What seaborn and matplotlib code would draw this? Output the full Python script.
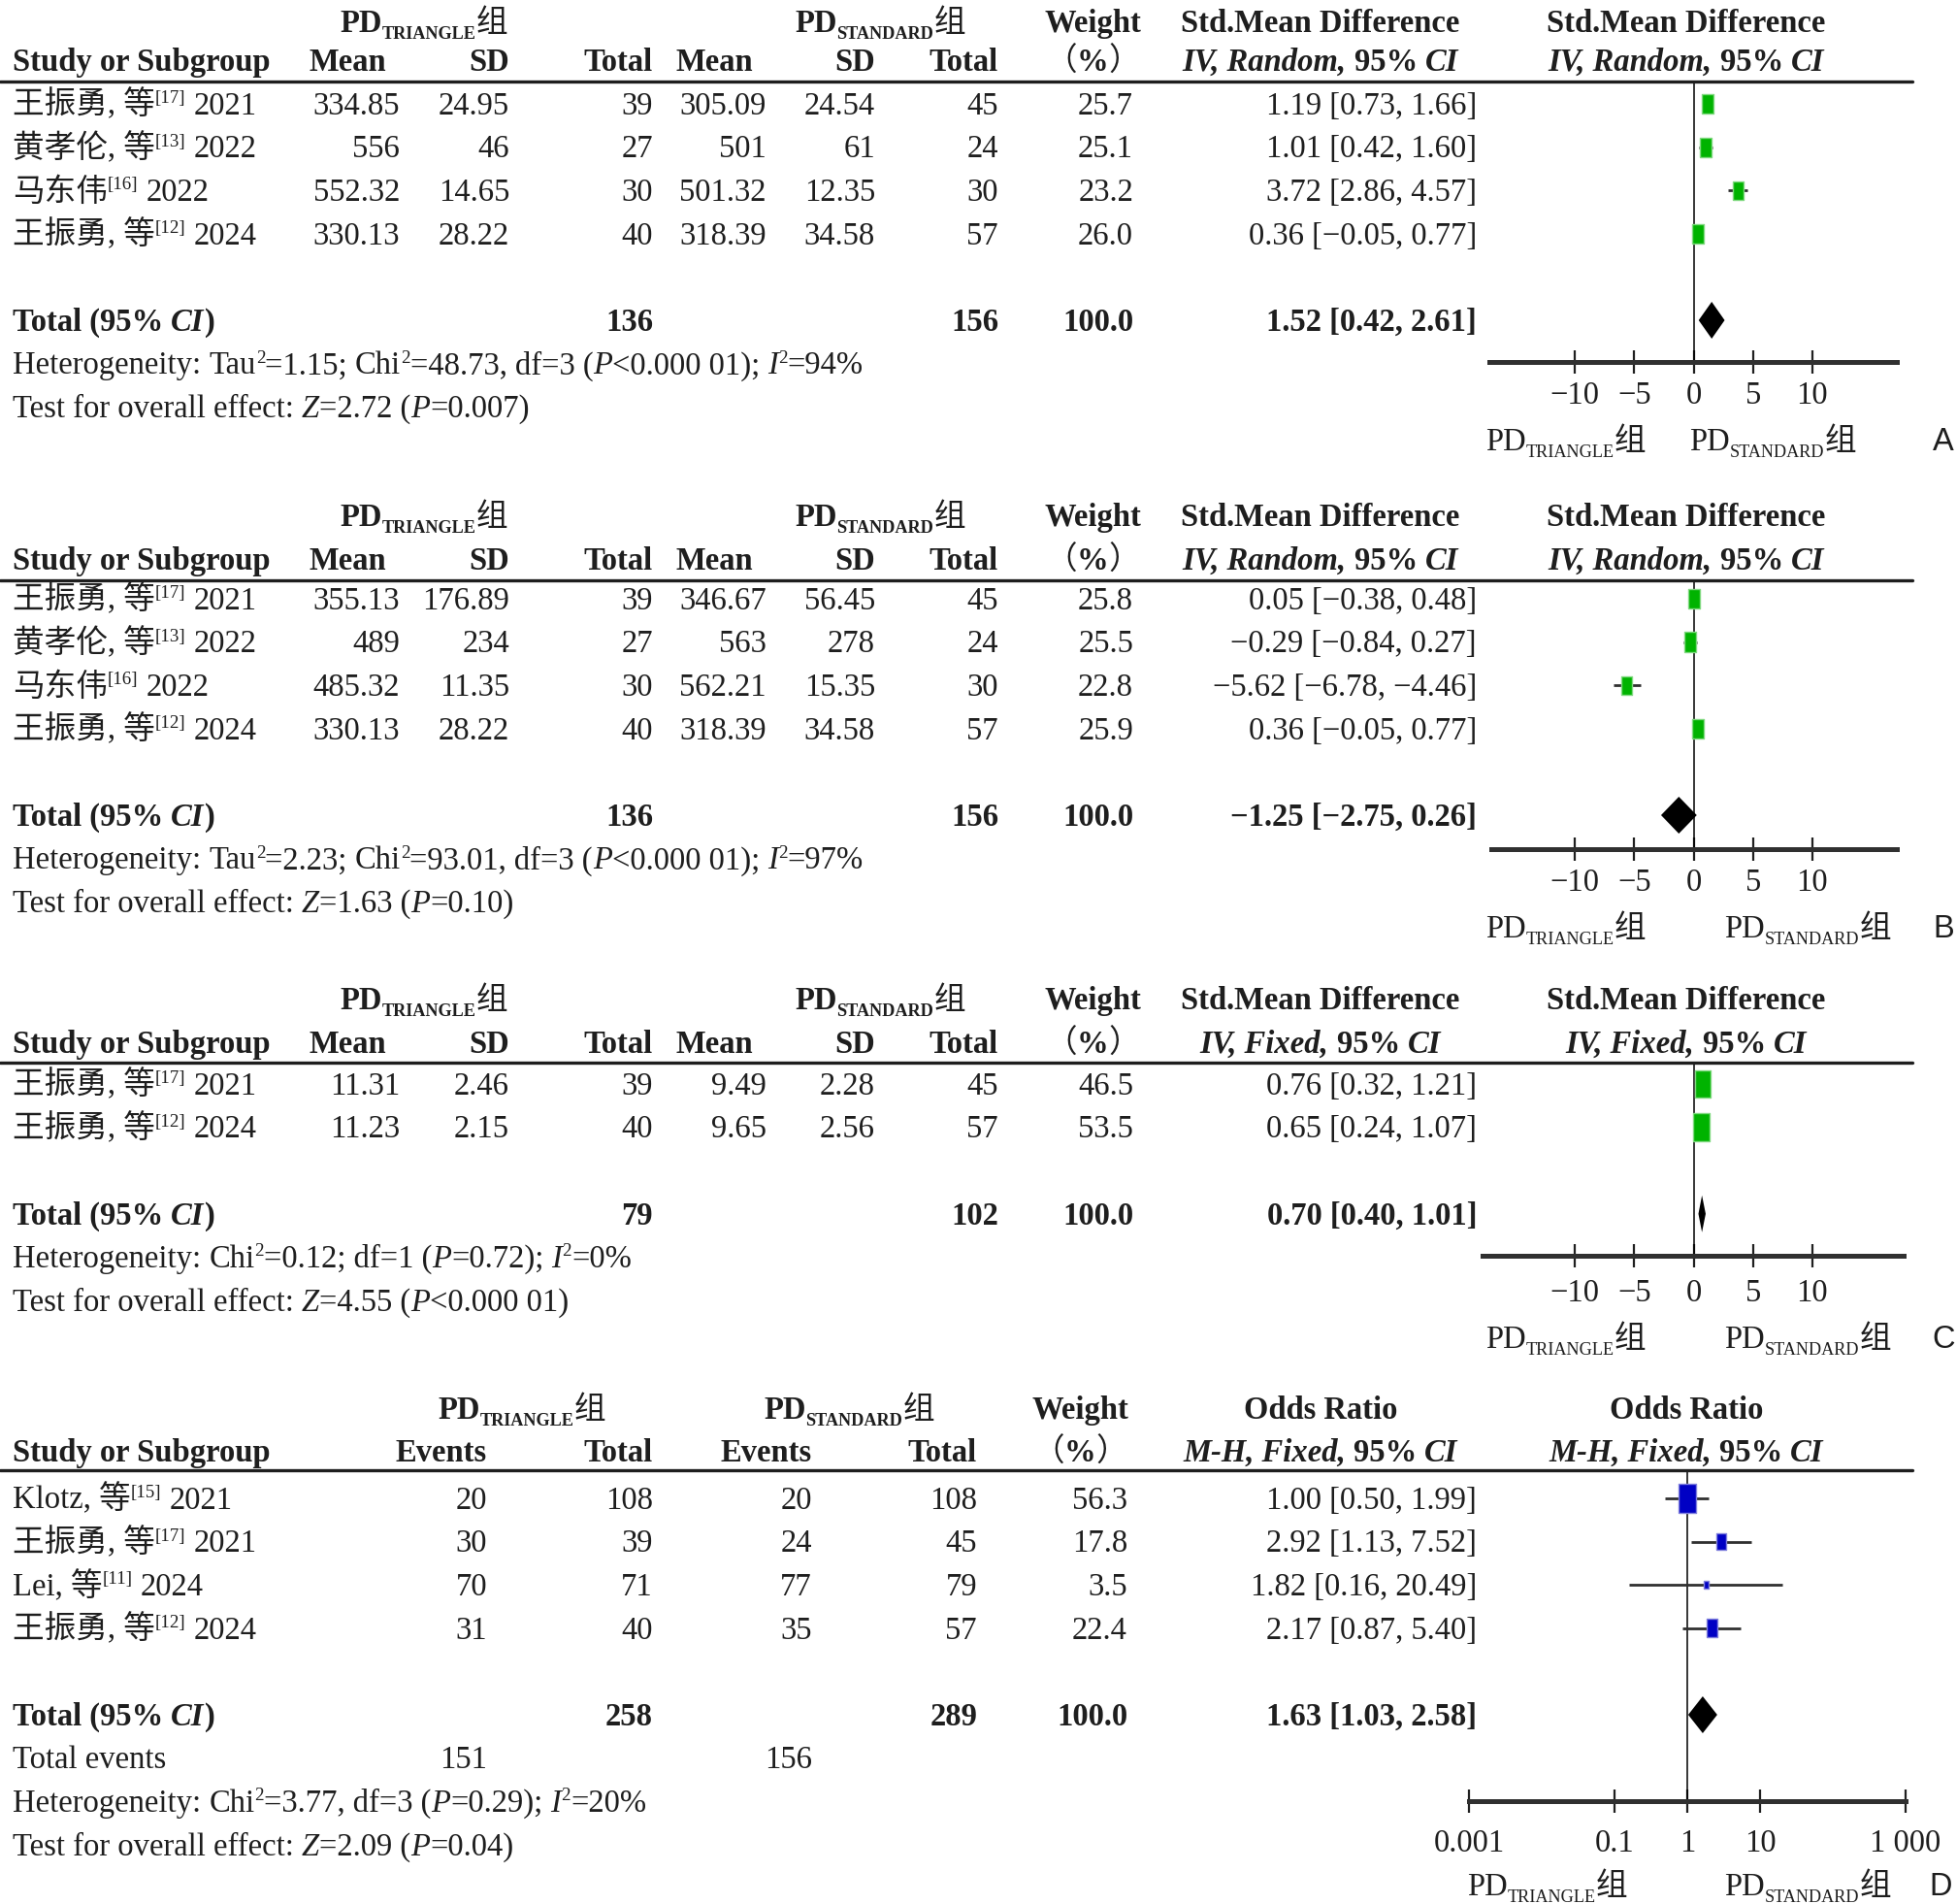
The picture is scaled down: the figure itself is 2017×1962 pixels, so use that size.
import matplotlib
matplotlib.use("Agg")
import matplotlib.pyplot as plt
from matplotlib.lines import Line2D
from matplotlib.ticker import NullLocator
import numpy as np
import seaborn as sns

# ── canvas / style ────────────────────────────────────────────────────────
W, H, DPI = 2017, 1962, 100
PX = DPI / 72.0                       # pixels per point
FS = 23.5
SERIF = ["Liberation Serif", "Noto Sans CJK SC", "DejaVu Serif"]
SANS = ["Liberation Sans", "DejaVu Sans"]
INK = "#1e1e1e"
DARK = "#303030"
GREEN, GREEN_EDGE = "#00b300", "#80d980"
BLUE, BLUE_EDGE = "#0000c4", "#8080dd"

# ── data: panels A-C (std. mean difference) ──────────────────────────────
SMD_AUTHORS = ["王振勇, 等", "黄孝伦, 等", "马东伟", "王振勇, 等"]
SMD_REFS = ["[17]", "[13]", "[16]", "[12]"]
SMD_YEARS = ["2021", "2022", "2022", "2024"]
SMD_N1 = [39, 27, 30, 40]
SMD_N2 = [45, 24, 30, 57]

A_MEAN1 = ["334.85", "556", "552.32", "330.13"]
A_SD1 = ["24.95", "46", "14.65", "28.22"]
A_MEAN2 = ["305.09", "501", "501.32", "318.39"]
A_SD2 = ["24.54", "61", "12.35", "34.58"]
A_WEIGHT = [25.7, 25.1, 23.2, 26.0]
A_EST = [1.19, 1.01, 3.72, 0.36]
A_LO = [0.73, 0.42, 2.86, -0.05]
A_HI = [1.66, 1.60, 4.57, 0.77]
A_TOTAL = [1.52, 0.42, 2.61]
A_HET = ["1.15", "48.73", "3", "<0.000 01", "94"]
A_TEST = ["2.72", "=0.007"]

B_MEAN1 = ["355.13", "489", "485.32", "330.13"]
B_SD1 = ["176.89", "234", "11.35", "28.22"]
B_MEAN2 = ["346.67", "563", "562.21", "318.39"]
B_SD2 = ["56.45", "278", "15.35", "34.58"]
B_WEIGHT = [25.8, 25.5, 22.8, 25.9]
B_EST = [0.05, -0.29, -5.62, 0.36]
B_LO = [-0.38, -0.84, -6.78, -0.05]
B_HI = [0.48, 0.27, -4.46, 0.77]
B_TOTAL = [-1.25, -2.75, 0.26]
B_HET = ["2.23", "93.01", "3", "<0.000 01", "97"]
B_TEST = ["1.63", "=0.10"]

C_AUTHORS = ["王振勇, 等", "王振勇, 等"]
C_REFS = ["[17]", "[12]"]
C_YEARS = ["2021", "2024"]
C_N1 = [39, 40]
C_N2 = [45, 57]
C_MEAN1 = ["11.31", "11.23"]
C_SD1 = ["2.46", "2.15"]
C_MEAN2 = ["9.49", "9.65"]
C_SD2 = ["2.28", "2.56"]
C_WEIGHT = [46.5, 53.5]
C_EST = [0.76, 0.65]
C_LO = [0.32, 0.24]
C_HI = [1.21, 1.07]
C_TOTAL = [0.70, 0.40, 1.01]
C_HET = [None, "0.12", "1", "=0.72", "0"]
C_TEST = ["4.55", "<0.000 01"]

SMD_TICKS = [-10, -5, 0, 5, 10]

# ── data: panel D (odds ratio) ───────────────────────────────────────────
D_AUTHORS = ["Klotz, 等", "王振勇, 等", "Lei, 等", "王振勇, 等"]
D_REFS = ["[15]", "[17]", "[11]", "[12]"]
D_YEARS = ["2021", "2021", "2024", "2024"]
D_EV1 = [20, 30, 70, 31]
D_N1 = [108, 39, 71, 40]
D_EV2 = [20, 24, 77, 35]
D_N2 = [108, 45, 79, 57]
D_WEIGHT = [56.3, 17.8, 3.5, 22.4]
D_EST = [1.00, 2.92, 1.82, 2.17]
D_LO = [0.50, 1.13, 0.16, 0.87]
D_HI = [1.99, 7.52, 20.49, 5.40]
D_TOTAL = [1.63, 1.03, 2.58]
D_HET = [None, "3.77", "3", "=0.29", "20"]
D_TEST = ["2.09", "=0.04"]
OR_TICKS = [0.001, 0.1, 1, 10, 1000]
OR_TICKLABELS = ["0.001", "0.1", "1", "10", "1 000"]

sns.set_theme(style="white")
plt.rcParams["font.family"] = SERIF
plt.rcParams["axes.unicode_minus"] = True

fig = plt.figure(figsize=(W / DPI, H / DPI), dpi=DPI, facecolor="white")
renderer = fig.canvas.get_renderer()

B = dict(weight="bold")
I = dict(style="italic")
BI = dict(weight="bold", style="italic")
SUP = dict(scale=0.58, rise=0.36)


def advance(s, kw):
    # width of s including its spaces (bars on both sides keep them)
    t1 = fig.text(0, 0, "|" + s + "|", **kw)
    t2 = fig.text(0, 0, "||", **kw)
    w = t1.get_window_extent(renderer).width - t2.get_window_extent(renderer).width
    t1.remove()
    t2.remove()
    return w


def rich(x, y, parts, ha="left", size=FS, color=INK):
    """Draw a run of differently styled pieces; x,y in image pixels (y = text centre)."""
    items = []
    for p in parts:
        if isinstance(p, str):
            p = (p, {})
        s, st = p
        kw = dict(fontsize=size * st.get("scale", 1.0), fontweight=st.get("weight", "normal"),
                  fontstyle=st.get("style", "normal"), family=st.get("family", SERIF),
                  color=color, va="baseline", ha="left")
        items.append((s, kw, advance(s, kw), st.get("rise", 0.0) * size * PX))
    total = sum(it[2] for it in items)
    cx = {"left": x, "center": x - total / 2, "right": x - total}[ha]
    base = y + 0.33 * size * PX
    for s, kw, w, rise in items:
        if s.strip():
            fig.text(cx / W, 1 - (base - rise) / H, s, **kw)
        cx += w


def pd_label(x, y, group, bold):
    w = "bold" if bold else "normal"
    rich(x, y, [("PD", dict(weight=w)), (group, dict(weight=w, scale=0.56, rise=-0.22)), "组"],
         ha="center")


def name_parts(author, ref, year):
    return [author, (ref, SUP), " ", year]


def fmt_ci(e, lo, hi):
    return f"{e:.2f} [{lo:.2f}, {hi:.2f}]".replace("-", "−")


def het_parts(het, chi_sep):
    tau, chi, df, p, i2 = het
    parts = ["Heterogeneity: "]
    if tau is not None:
        parts += ["Tau", ("2", SUP), f"={tau}; "]
    parts += ["Chi", ("2", SUP), f"={chi}{chi_sep} df={df} (", ("P", I), f"{p});", " ",
              ("I", I), ("2", SUP), f"={i2}%"]
    return parts


def test_parts(test):
    z, p = test
    return ["Test for overall effect: ", ("Z", I), f"={z} (", ("P", I), f"{p})"]


def hrule(y):
    fig.add_artist(Line2D([0, 1971 / W], [1 - y / H] * 2, lw=2.4, color=INK))


RECT = [(-0.29, -0.5), (0.29, -0.5), (0.29, 0.5), (-0.29, 0.5), (-0.29, -0.5)]
ZERO_PX, PPU = 1745.6, 12.23          # SMD axis: pixel of 0 and pixels per unit


def forest(x0, x1, rule, axis, row0, dy, est, lo, hi, wt, tot, color, edge, tick_gap, log=False):
    ax = fig.add_axes([x0 / W, 1 - axis / H, (x1 - x0) / W, (axis - rule) / H])
    ax.patch.set_alpha(0)
    rows = np.arange(len(est))
    ax.hlines(rows, lo, hi, color=DARK, lw=2.0, zorder=2)
    sns.scatterplot(x=est, y=rows, s=np.asarray(wt) * 8.3, marker=RECT, color=color,
                    edgecolor=edge, linewidth=1.0, ax=ax, zorder=3, legend=False)
    yt = len(est) + 1
    hh = 19 / dy
    ax.fill([tot[1], tot[0], tot[2], tot[0]], [yt, yt - hh, yt, yt + hh],
            color="black", lw=0, zorder=4)
    ax.axvline(1 if log else 0, color="black", lw=1.1, zorder=1)
    if log:
        ax.set_xscale("log")
        ax.set_xlim(1e-3, 1e3)
        ax.set_xticks(OR_TICKS, OR_TICKLABELS)
        ax.xaxis.set_minor_locator(NullLocator())
    else:
        ax.set_xlim((x0 - ZERO_PX) / PPU, (x1 - ZERO_PX) / PPU)
        ax.set_xticks(SMD_TICKS)
    ax.set_ylim((axis - row0) / dy, (rule - row0) / dy)
    for side in ("top", "left", "right"):
        ax.spines[side].set_visible(False)
    ax.spines["bottom"].set(lw=3.6, color=DARK)
    pad = (tick_gap - 24) / PX
    ax.tick_params(axis="x", bottom=True, direction="inout", length=17, width=1.6,
                   color="#202020", pad=pad, labelsize=FS, labelcolor=INK)
    ax.set_yticks([])
    ax.set_xlabel("")
    ax.set_ylabel("")
    ax.grid(False)
    return ax


def smd_panel(L, authors, refs, years, mean1, sd1, n1, mean2, sd2, n2, wt, est, lo, hi,
              tot, method, het, chi_sep, test):
    y1, y2 = L["h1"], L["h2"]
    pd_label(437, y1, "TRIANGLE", True)
    pd_label(907, y1, "STANDARD", True)
    rich(1126, y1, [("Weight", B)], ha="center")
    rich(1361, y1, [("Std.Mean Difference", B)], ha="center")
    rich(1738, y1, [("Std.Mean Difference", B)], ha="center")
    rich(13, y2, [("Study or Subgroup", B)])
    rich(358, y2, [("Mean", B)], ha="center")
    rich(525, y2, [("SD", B)], ha="right")
    rich(673, y2, [("Total", B)], ha="right")
    rich(736, y2, [("Mean", B)], ha="center")
    rich(902, y2, [("SD", B)], ha="right")
    rich(1029, y2, [("Total", B)], ha="right")
    rich(1126, y2, ["（", ("%", B), "）"], ha="center")
    meth = [(method + ", ", BI), ("95% ", B), ("CI", BI)]
    rich(1361, y2, meth, ha="center")
    rich(1738, y2, meth, ha="center")
    hrule(L["rule"])

    row0, dy = L["row0"], L["dy"]
    n = len(est)
    for i in range(n):
        y = row0 + i * dy
        rich(13, y, name_parts(authors[i], refs[i], years[i]))
        rich(412, y, [mean1[i]], ha="right")
        rich(525, y, [sd1[i]], ha="right")
        rich(673, y, [str(n1[i])], ha="right")
        rich(790, y, [mean2[i]], ha="right")
        rich(902, y, [sd2[i]], ha="right")
        rich(1029, y, [str(n2[i])], ha="right")
        rich(1168, y, [f"{wt[i]:.1f}"], ha="right")
        rich(1522, y, [fmt_ci(est[i], lo[i], hi[i])], ha="right")
    y = row0 + (n + 1) * dy
    rich(13, y, [("Total (95% ", B), ("CI", BI), (")", B)])
    rich(673, y, [(str(sum(n1)), B)], ha="right")
    rich(1029, y, [(str(sum(n2)), B)], ha="right")
    rich(1168, y, [(f"{sum(wt):.1f}", B)], ha="right")
    rich(1522, y, [(fmt_ci(*tot), B)], ha="right")
    rich(13, row0 + (n + 2) * dy, het_parts(het, chi_sep))
    rich(13, row0 + (n + 3) * dy, test_parts(test))

    forest(L["x0"], L["x1"], L["rule"], L["axis"], row0, dy, est, lo, hi, wt, tot,
           GREEN, GREEN_EDGE, L["tick_gap"])
    pd_label(1614, L["group"], "TRIANGLE", False)
    pd_label(L["std_x"], L["group"], "STANDARD", False)
    rich(2003, L["group"], [(L["letter"], dict(family=SANS))], ha="center")


LAY_A = dict(h1=22, h2=62, rule=84, row0=107, dy=44.6, axis=373, tick_gap=32, group=453,
             x0=1535, x1=1955, std_x=1827, letter="A")
LAY_B = dict(h1=531, h2=576, rule=598, row0=617, dy=44.6, axis=875, tick_gap=32, group=955,
             x0=1537, x1=1955, std_x=1863, letter="B")
LAY_C = dict(h1=1029, h2=1074, rule=1095, row0=1117, dy=44.6, axis=1294, tick_gap=36, group=1378,
             x0=1528, x1=1962, std_x=1863, letter="C")

smd_panel(LAY_A, SMD_AUTHORS, SMD_REFS, SMD_YEARS, A_MEAN1, A_SD1, SMD_N1, A_MEAN2, A_SD2,
          SMD_N2, A_WEIGHT, A_EST, A_LO, A_HI, A_TOTAL, "IV, Random", A_HET, ",", A_TEST)
smd_panel(LAY_B, SMD_AUTHORS, SMD_REFS, SMD_YEARS, B_MEAN1, B_SD1, SMD_N1, B_MEAN2, B_SD2,
          SMD_N2, B_WEIGHT, B_EST, B_LO, B_HI, B_TOTAL, "IV, Random", B_HET, ",", B_TEST)
smd_panel(LAY_C, C_AUTHORS, C_REFS, C_YEARS, C_MEAN1, C_SD1, C_N1, C_MEAN2, C_SD2,
          C_N2, C_WEIGHT, C_EST, C_LO, C_HI, C_TOTAL, "IV, Fixed", C_HET, ";", C_TEST)

# ── panel D: odds ratio ───────────────────────────────────────────────────
h1, h2, rule, row0, dy = 1451, 1495, 1515, 1544, 44.6
pd_label(538, h1, "TRIANGLE", True)
pd_label(875, h1, "STANDARD", True)
rich(1113, h1, [("Weight", B)], ha="center")
rich(1361, h1, [("Odds Ratio", B)], ha="center")
rich(1738, h1, [("Odds Ratio", B)], ha="center")
rich(13, h2, [("Study or Subgroup", B)])
rich(502, h2, [("Events", B)], ha="right")
rich(673, h2, [("Total", B)], ha="right")
rich(837, h2, [("Events", B)], ha="right")
rich(1007, h2, [("Total", B)], ha="right")
rich(1113, h2, ["（", ("%", B), "）"], ha="center")
mh = [("M-H, Fixed, ", BI), ("95% ", B), ("CI", BI)]
rich(1361, h2, mh, ha="center")
rich(1738, h2, mh, ha="center")
hrule(rule)

nD = len(D_EST)
for i in range(nD):
    y = row0 + i * dy
    rich(13, y, name_parts(D_AUTHORS[i], D_REFS[i], D_YEARS[i]))
    rich(502, y, [str(D_EV1[i])], ha="right")
    rich(673, y, [str(D_N1[i])], ha="right")
    rich(837, y, [str(D_EV2[i])], ha="right")
    rich(1007, y, [str(D_N2[i])], ha="right")
    rich(1162, y, [f"{D_WEIGHT[i]:.1f}"], ha="right")
    rich(1522, y, [fmt_ci(D_EST[i], D_LO[i], D_HI[i])], ha="right")
y = row0 + (nD + 1) * dy
rich(13, y, [("Total (95% ", B), ("CI", BI), (")", B)])
rich(673, y, [(str(sum(D_N1)), B)], ha="right")
rich(1007, y, [(str(sum(D_N2)), B)], ha="right")
rich(1162, y, [(f"{sum(D_WEIGHT):.1f}", B)], ha="right")
rich(1522, y, [(fmt_ci(*D_TOTAL), B)], ha="right")
y = row0 + (nD + 2) * dy
rich(13, y, ["Total events"])
rich(502, y, [str(sum(D_EV1))], ha="right")
rich(837, y, [str(sum(D_EV2))], ha="right")
rich(13, row0 + (nD + 3) * dy, het_parts(D_HET, ","))
rich(13, row0 + (nD + 4) * dy, test_parts(D_TEST))

forest(1514, 1964, rule, 1856, row0, dy, D_EST, D_LO, D_HI, D_WEIGHT, D_TOTAL,
       BLUE, BLUE_EDGE, 41, log=True)
pd_label(1595, 1942, "TRIANGLE", False)
pd_label(1863, 1942, "STANDARD", False)
rich(2000, 1942, [("D", dict(family=SANS))], ha="center")

fig.savefig("out.png", dpi=DPI, facecolor="white")
